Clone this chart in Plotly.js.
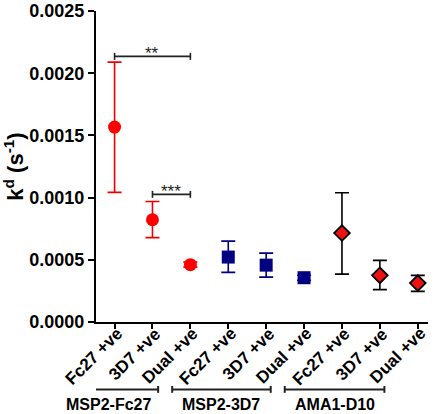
<!DOCTYPE html>
<html>
<head>
<meta charset="utf-8">
<script src="https://cdn.plot.ly/plotly-3.0.1.min.js"></script>
<style>html,body{margin:0;padding:0;background:#fff;}#chart{width:442px;height:414px;}</style>
</head>
<body>
<div id="chart"></div>
<script>
// Categories (x positions 0..8) and tick labels
const tickLabels = ["Fc27 +ve","3D7 +ve","Dual +ve","Fc27 +ve","3D7 +ve","Dual +ve","Fc27 +ve","3D7 +ve","Dual +ve"];
const groupNames = ["MSP2-Fc27","MSP2-3D7","AMA1-D10"];
const yTickVals = [0,0.0005,0.0010,0.0015,0.0020,0.0025];
const yTickText = ["0.0000","0.0005","0.0010","0.0015","0.0020","0.0025"];

// Values (s^-1)
const mspFc27X = [0,1,2];
const mspFc27Y = [0.001567,0.000822,0.000461];
const mspFc27Up = [0.000522,0.000147,0.000020];
const mspFc27Dn = [0.000525,0.000144,0.000020];

const msp3D7X = [3,4,5];
const msp3D7Y = [0.000522,0.000457,0.000356];
const msp3D7Up = [0.000128,0.000097,0.000020];
const msp3D7Dn = [0.000123,0.000096,0.000020];

const amaX = [6,7,8];
const amaY = [0.000715,0.000375,0.000313];
const amaUp = [0.000324,0.000120,0.000062];
const amaDn = [0.000330,0.000115,0.000067];

// Significance brackets
const sigX0 = [0,1];
const sigX1 = [2,2];
const sigY = [0.002135,0.001026];
const sigLabel = ["**","***"];

// Group brackets (x in category units, spanning rotated labels)
const groupX0 = [-1.48,1.52,4.49];
const groupX1 = [1.15,4.12,7.12];

const FONT = "Arial, Liberation Sans, sans-serif";
const catX = [0,1,2,3,4,5,6,7,8];

function eb(up,dn,color,w){
  return {type:'data',symmetric:false,array:up,arrayminus:dn,color:color,thickness:1.6,width:w};
}

const traces = [
  {x:mspFc27X,y:mspFc27Y,type:'scatter',mode:'markers',
   marker:{symbol:'circle',size:13,color:'#ff0000',line:{width:0}},
   error_y:eb(mspFc27Up,mspFc27Dn,'#ee0000',7),showlegend:false},
  {x:msp3D7X,y:msp3D7Y,type:'scatter',mode:'markers',
   marker:{symbol:'square',size:13,color:'#000080',line:{width:0}},
   error_y:eb(msp3D7Up,msp3D7Dn,'#000080',7),showlegend:false},
  {x:amaX,y:amaY,type:'scatter',mode:'markers',
   marker:{symbol:'diamond',size:12,color:'#ee1111',line:{width:1.8,color:'#000000'}},
   error_y:eb(amaUp,amaDn,'#000000',7),showlegend:false}
];

const shapes = [];
const annotations = [];
for(let i=0;i<sigX0.length;i++){
  shapes.push({type:'line',xref:'x',yref:'y',x0:sigX0[i],x1:sigX1[i],y0:sigY[i],y1:sigY[i],line:{color:'#222',width:1.6}});
  for(const xx of [sigX0[i],sigX1[i]]){
    shapes.push({type:'line',xref:'x',yref:'y',x0:xx,x1:xx,y0:sigY[i]-0.000028,y1:sigY[i]+0.000028,line:{color:'#222',width:1.6}});
  }
  annotations.push({xref:'x',yref:'y',x:(sigX0[i]+sigX1[i])/2,y:sigY[i],text:sigLabel[i],showarrow:false,
    yanchor:'bottom',yshift:-9,font:{family:FONT,size:17,color:'#222'}});
}
// rotated category labels
for(let i=0;i<catX.length;i++){
  annotations.push({xref:'x',yref:'y',x:catX[i],y:0,text:'<b>'+tickLabels[i]+'</b>',showarrow:false,
    textangle:-45,xanchor:'right',yanchor:'top',xshift:13,yshift:-1,borderpad:0,
    font:{family:FONT,size:17,color:'#000'}});
}
const gy = -0.2167;
for(let i=0;i<groupX0.length;i++){
  shapes.push({type:'line',xref:'x',yref:'paper',x0:groupX0[i],x1:groupX1[i],y0:gy,y1:gy,line:{color:'#222',width:2}});
  for(const xx of [groupX0[i],groupX1[i]]){
    shapes.push({type:'line',xref:'x',yref:'paper',x0:xx,x1:xx,y0:gy-0.011,y1:gy+0.011,line:{color:'#222',width:2}});
  }
  annotations.push({xref:'x',yref:'paper',x:(groupX0[i]+groupX1[i])/2,y:-0.265,text:'<b>'+groupNames[i]+'</b>',
    showarrow:false,yanchor:'middle',font:{family:FONT,size:16,color:'#000'}});
}

const layout = {
  width:442,height:414,
  margin:{l:96,r:14,t:10.5,b:92.4},
  paper_bgcolor:'#fff',plot_bgcolor:'#fff',
  showlegend:false,
  xaxis:{range:[-0.49,8.27],tickmode:'array',tickvals:catX,showticklabels:false,
    showline:true,linecolor:'#000',linewidth:2,ticks:'outside',ticklen:5,tickwidth:2,tickcolor:'#000',
    showgrid:false,zeroline:false},
  yaxis:{range:[0,0.0025],tickmode:'array',tickvals:yTickVals,ticktext:yTickText.map(t=>'<b>'+t+'</b>'),
    showline:true,linecolor:'#000',linewidth:2,ticks:'outside',ticklen:6,tickwidth:2,tickcolor:'#000',
    showgrid:false,zeroline:false,tickfont:{family:FONT,size:18,color:'#000',weight:700},
    title:{text:'<b>k<sup>d</sup> (s<sup>-1</sup>)</b>',font:{family:FONT,size:22,color:'#000'},standoff:8}},
  shapes:shapes,annotations:annotations
};

Plotly.newPlot('chart',traces,layout,{displayModeBar:false,staticPlot:true});
</script>
</body>
</html>
